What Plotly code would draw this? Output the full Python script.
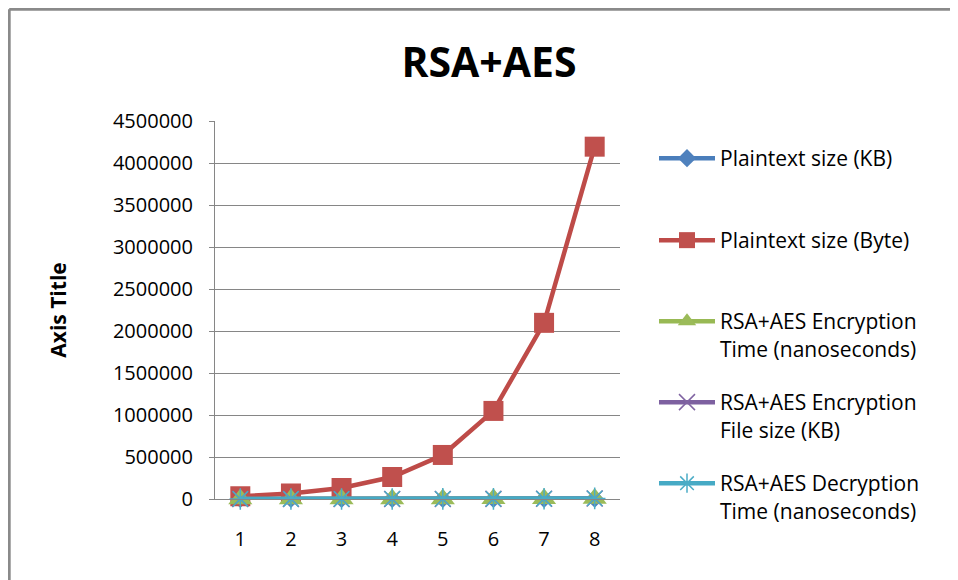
import plotly.graph_objects as go

# ---- data ----
categories = [1, 2, 3, 4, 5, 6, 7, 8]
plaintext_kb = [32, 64, 128, 256, 512, 1024, 2048, 4096]
plaintext_byte = [32768, 65536, 131072, 262144, 524288, 1048576, 2097152, 4194304]
enc_time_ns = [310, 420, 560, 800, 1200, 2100, 3800, 7200]
enc_file_kb = [44, 88, 172, 344, 684, 1368, 2732, 5464]
dec_time_ns = [290, 380, 520, 760, 1150, 1980, 3600, 6900]

series_names = [
    "Plaintext size (KB)",
    "Plaintext size (Byte)",
    "RSA+AES Encryption<br>Time (nanoseconds)",
    "RSA+AES Encryption<br>File size (KB)",
    "RSA+AES Decryption<br>Time (nanoseconds)",
]
title_text = "RSA+AES"
y_axis_title = "Axis Title"
y_ticks = [0, 500000, 1000000, 1500000, 2000000, 2500000, 3000000, 3500000, 4000000, 4500000]

FONT = "Open Sans"
OFF = 8  # page body margin
W, H = 958 - OFF, 580 - OFF
L, R, T, B = 215 - OFF, 620 - OFF, 121 - OFF, 499 - OFF

line_cols = ["#4A7EBB", "#BE4B48", "#98B954", "#7D60A0", "#46AAC5"]
mark_cols = ["#4F81BD", "#C0504D", "#9BBB59", "#8064A2", "#4BACC6"]

values = [plaintext_kb, plaintext_byte, enc_time_ns, enc_file_kb, dec_time_ns]
markers = [
    dict(symbol="diamond", size=14, color=mark_cols[0]),
    dict(symbol="square", size=20, color=mark_cols[1]),
    dict(symbol="triangle-up", size=21, color=mark_cols[2]),
    dict(symbol="x-thin-open", size=16, color=mark_cols[3], line=dict(color="#9C88BC", width=1.5)),
    dict(symbol="asterisk-open", size=18, color=mark_cols[4], line=dict(color=mark_cols[4], width=1.5)),
]
legend_ids = ["legend", "legend2", "legend3", "legend4", "legend5"]
legend_px_top = [138, 220, 301, 382, 463]

fig = go.Figure()
for i in range(5):
    fig.add_trace(go.Scatter(
        x=categories, y=values[i], name=series_names[i], mode="lines+markers",
        line=dict(color=line_cols[i], width=4.5), marker=markers[i],
        cliponaxis=False, legend=legend_ids[i],
    ))

layout_legends = {}
for i, lid in enumerate(legend_ids):
    layout_legends[lid] = dict(
        xref="container", yref="container",
        x=(654 - OFF) / W, y=1 - (legend_px_top[i] - OFF) / H, xanchor="left", yanchor="top",
        font=dict(family=FONT, size=21, color="#000"),
        valign="top", bgcolor="rgba(0,0,0,0)", itemwidth=56,
    )

def px_x(p):
    return (p - OFF - L) / (R - L)

def px_y(p):
    return (B - (p - OFF)) / (B - T)

fig.update_layout(
    width=W, height=H,
    margin=dict(l=L, r=W - R, t=T, b=H - B, autoexpand=False),
    paper_bgcolor="white", plot_bgcolor="white",
    showlegend=True,
    title=dict(text="<b>" + title_text + "</b>", font=dict(family=FONT, size=41, color="#000"),
               x=(489 - OFF) / W, xanchor="center", xref="container",
               y=1 - (63 - OFF) / H, yanchor="middle", yref="container"),
    xaxis=dict(range=[0.5, 8.5], tickvals=categories, ticktext=[str(c) for c in categories],
               showgrid=False, zeroline=False, showline=True, linecolor="#868686", linewidth=1,
               ticks="", tickfont=dict(family=FONT, size=20, color="#000"), ticklabelstandoff=22),
    yaxis=dict(range=[0, 4500000], tickvals=y_ticks, tickformat="d",
               showgrid=True, gridcolor="#868686", gridwidth=1, zeroline=False,
               showline=True, linecolor="#868686", linewidth=1,
               ticks="outside", ticklen=5, tickcolor="#868686",
               tickfont=dict(family=FONT, size=20, color="#000"), ticklabelstandoff=12,
               title=dict(text="<b>" + y_axis_title + "</b>", font=dict(family=FONT, size=21, color="#000"),
                          standoff=40)),
    shapes=[
        dict(type="line", xref="paper", yref="paper",
             x0=px_x(9.2), x1=px_x(1200), y0=px_y(9.2), y1=px_y(9.2),
             line=dict(color="#8a8a8a", width=3), layer="below"),
        dict(type="line", xref="paper", yref="paper",
             x0=px_x(9.2), x1=px_x(9.2), y0=px_y(800), y1=px_y(9.2),
             line=dict(color="#8a8a8a", width=3), layer="below"),
    ],
    **layout_legends,
)

fig.write_html("out.html")
